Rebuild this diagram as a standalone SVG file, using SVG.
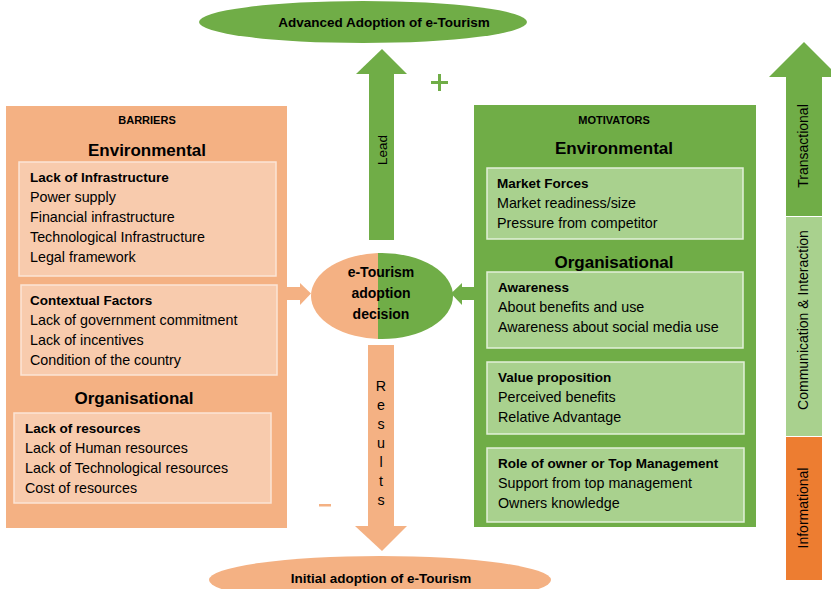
<svg xmlns="http://www.w3.org/2000/svg" width="831" height="589" viewBox="0 0 831 589">
<style>
text{font-family:"Liberation Sans",Arial,sans-serif;fill:#000}
.b{font-weight:bold}
.t{font-size:14.3px}
.t.b{font-size:13.5px}
.h{font-size:17px;font-weight:bold;text-anchor:middle}
.cap{font-size:11px;font-weight:bold;text-anchor:middle}
.or{fill:#F4B183}
.orl{fill:#F8CBAD;stroke:#FBE5D6;stroke-width:1.5}
.gr{fill:#70AD47}
.grl{fill:#A9D18E;stroke:#E2F0D9;stroke-width:1.5}
.mid{text-anchor:middle}
</style>
<rect width="831" height="589" fill="#fff"/>
<g id="connectors">
<g id="lead-arrow" class="gr">
<rect x="369" y="74" width="25" height="166"/>
<polygon points="356,74 407,74 382,49"/>
</g>
<text x="382" y="150" class="mid" font-size="13.5" transform="rotate(-90 382 150)" dy="5">Lead</text>
<rect x="431" y="81" width="17" height="3" fill="#70AD47"/>
<rect x="438" y="74" width="3" height="17" fill="#70AD47"/>
<g id="results-arrow" class="or">
<rect x="368" y="345" width="26" height="181"/>
<polygon points="355,526 407,526 382,551"/>
</g>
<g font-size="14.3" class="mid">
<text x="381" y="391">R</text>
<text x="381" y="410">e</text>
<text x="381" y="429">s</text>
<text x="381" y="448">u</text>
<text x="381" y="467">l</text>
<text x="381" y="486">t</text>
<text x="381" y="505">s</text>
</g>
<rect x="319" y="504" width="12" height="2.5" fill="#F4B183"/>
<g id="barrier-arrow" class="or">
<rect x="287" y="287" width="14" height="13"/>
<polygon points="300,283 311,293.5 300,305"/>
</g>
<g id="motivator-arrow" class="gr">
<rect x="461" y="287" width="14" height="13"/>
<polygon points="462,283 451,293.5 462,305"/>
</g>
</g>
<g id="advanced">
<ellipse cx="363" cy="22" rx="164" ry="21" class="gr"/>
<text x="384" y="27" class="b mid" font-size="13.5">Advanced Adoption of e-Tourism</text>
</g>
<g id="initial">
<ellipse cx="380" cy="580" rx="171" ry="24" class="or"/>
<text x="381" y="583" class="b mid" font-size="13.5">Initial adoption of e-Tourism</text>
</g>
<g id="barriers">
<rect x="6" y="106" width="281" height="422" class="or"/>
<text x="147" y="124" class="cap">BARRIERS</text>
<text x="147" y="156" class="h">Environmental</text>
<rect x="19" y="162" width="257" height="114" class="orl"/>
<text x="30" y="182" class="t b">Lack of Infrastructure</text>
<text x="30" y="202" class="t">Power supply</text>
<text x="30" y="222" class="t">Financial infrastructure</text>
<text x="30" y="242" class="t">Technological Infrastructure</text>
<text x="30" y="262" class="t">Legal framework</text>
<rect x="21" y="285" width="256" height="90" class="orl"/>
<text x="30" y="305" class="t b">Contextual Factors</text>
<text x="30" y="325" class="t">Lack of government commitment</text>
<text x="30" y="345" class="t">Lack of incentives</text>
<text x="30" y="365" class="t">Condition of the country</text>
<text x="134" y="404" class="h">Organisational</text>
<rect x="14" y="413" width="257" height="90" class="orl"/>
<text x="25" y="433" class="t b">Lack of resources</text>
<text x="25" y="453" class="t">Lack of Human resources</text>
<text x="25" y="473" class="t">Lack of Technological resources</text>
<text x="25" y="493" class="t">Cost of resources</text>
</g>
<g id="motivators">
<rect x="474" y="105" width="282" height="422" class="gr"/>
<text x="614" y="124" class="cap">MOTIVATORS</text>
<text x="614" y="154" class="h">Environmental</text>
<rect x="487" y="168" width="256" height="71" class="grl"/>
<text x="497" y="188" class="t b">Market Forces</text>
<text x="497" y="208" class="t">Market readiness/size</text>
<text x="497" y="228" class="t">Pressure from competitor</text>
<text x="614" y="268" class="h">Organisational</text>
<rect x="487" y="272" width="256" height="76" class="grl"/>
<text x="498" y="292" class="t b">Awareness</text>
<text x="498" y="312" class="t">About benefits and use</text>
<text x="498" y="332" class="t">Awareness about social media use</text>
<rect x="487" y="362" width="257" height="72" class="grl"/>
<text x="498" y="382" class="t b">Value proposition</text>
<text x="498" y="402" class="t">Perceived benefits</text>
<text x="498" y="422" class="t">Relative Advantage</text>
<rect x="487" y="448" width="257" height="74" class="grl"/>
<text x="498" y="468" class="t b">Role of owner or Top Management</text>
<text x="498" y="488" class="t">Support from top management</text>
<text x="498" y="508" class="t">Owners knowledge</text>
</g>
<g id="decision">
<clipPath id="lh"><rect x="300" y="240" width="78" height="110"/></clipPath>
<clipPath id="rh"><rect x="378" y="240" width="90" height="110"/></clipPath>
<ellipse cx="382" cy="296" rx="71" ry="43" class="or" clip-path="url(#lh)"/>
<ellipse cx="382" cy="296" rx="71" ry="43" class="gr" clip-path="url(#rh)"/>
<text x="381" y="277" class="b mid" font-size="14">e-Tourism</text>
<text x="381" y="298" class="b mid" font-size="14">adoption</text>
<text x="381" y="319" class="b mid" font-size="14">decision</text>
</g>
<g id="stages">
<polygon points="769,77 786,77 786,216 822,216 822,77 839,77 804,42" fill="#70AD47"/>
<rect x="786" y="217" width="36" height="219" fill="#A9D18E"/>
<rect x="786" y="437" width="36" height="143" fill="#ED7D31"/>
<text x="803" y="146" class="mid" font-size="14" transform="rotate(-90 803 146)" dy="5">Transactional</text>
<text x="803" y="320" class="mid" font-size="14" transform="rotate(-90 803 320)" dy="5">Communication &amp; Interaction</text>
<text x="803" y="508" class="mid" font-size="14" transform="rotate(-90 803 508)" dy="5">Informational</text>
</g>
</svg>
